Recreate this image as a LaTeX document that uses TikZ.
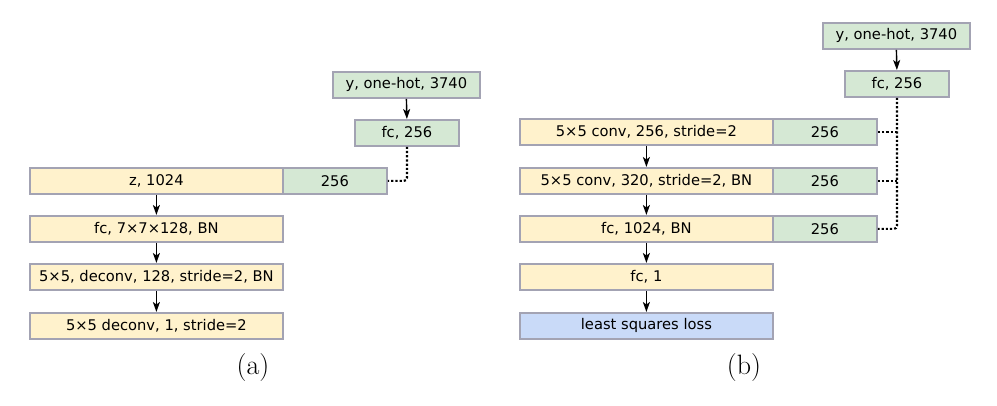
\documentclass[tikz,border=0pt]{standalone}
\usepackage{fontspec}
\setmainfont{DejaVu Sans}
\newfontfamily\capfont{Latin Modern Roman}
\usetikzlibrary{arrows.meta}
\definecolor{boxy}{HTML}{FFF2CC}
\definecolor{boxg}{HTML}{D5E8D4}
\definecolor{boxb}{HTML}{C9DAF8}
\definecolor{edgec}{HTML}{A3A3B3}
\begin{document}
\begin{tikzpicture}[x=1pt,y=-1pt,
  lay/.style={draw=edgec,line width=1.8pt,inner sep=0pt,font=\fontsize{14.7}{16}\selectfont,anchor=north west},
  ybox/.style={lay,fill=boxy},
  gbox/.style={lay,fill=boxg},
  bbox/.style={lay,fill=boxb},
  arr/.style={-{Stealth[length=10pt,width=7pt,inset=2.5pt]},line width=1.4pt},
  dots/.style={dotted,line width=2.2pt,rounded corners=3pt},
  captxt/.style={font=\capfont\fontsize{28}{32}\selectfont}]
\useasboundingbox (0,0) rectangle (997,406);
% panel (a)
\node[gbox,minimum width=147pt,minimum height=26pt] (ya) at (332,71) {y, one-hot, 3740};
\node[gbox,minimum width=104pt,minimum height=26pt] (fa) at (354,119) {fc, 256};
\node[ybox,minimum width=253pt,minimum height=26pt] (z) at (29,167) {z, 1024};
\node[gbox,minimum width=104pt,minimum height=26pt] (za) at (282,167) {256};
\node[ybox,minimum width=253pt,minimum height=26pt] (a1) at (29,215) {fc, 7×7×128, BN};
\node[ybox,minimum width=253pt,minimum height=26pt] (a2) at (29,263) {5×5, deconv, 128, stride=2, BN};
\node[ybox,minimum width=253pt,minimum height=26pt] (a3) at (29,312) {5×5 deconv, 1, stride=2};
\draw[arr] (ya.south) -- (fa.north);
\draw[arr] (z.south) -- (a1.north);
\draw[arr] (a1.south) -- (a2.north);
\draw[arr] (a2.south) -- (a3.north);
\draw[dots] (fa.south) |- (za.east);
\node[captxt] (capa) at (253,368) {(a)};
% panel (b)
\node[gbox,minimum width=147pt,minimum height=26pt] (yb) at (822,22) {y, one-hot, 3740};
\node[gbox,minimum width=104pt,minimum height=26pt] (fb) at (844,70) {fc, 256};
\node[ybox,minimum width=253pt,minimum height=26pt] (b1) at (519,118) {5×5 conv, 256, stride=2};
\node[gbox,minimum width=104pt,minimum height=26pt] (g1) at (772,118) {256};
\node[ybox,minimum width=253pt,minimum height=26pt] (b2) at (519,167) {5×5 conv, 320, stride=2, BN};
\node[gbox,minimum width=104pt,minimum height=26pt] (g2) at (772,167) {256};
\node[ybox,minimum width=253pt,minimum height=26pt] (b3) at (519,215) {fc, 1024, BN};
\node[gbox,minimum width=104pt,minimum height=26pt] (g3) at (772,215) {256};
\node[ybox,minimum width=253pt,minimum height=26pt] (b4) at (519,263) {fc, 1};
\node[bbox,minimum width=253pt,minimum height=26pt] (b5) at (519,312) {least squares loss};
\draw[arr] (yb.south) -- (fb.north);
\draw[arr] (b1.south) -- (b2.north);
\draw[arr] (b2.south) -- (b3.north);
\draw[arr] (b3.south) -- (b4.north);
\draw[arr] (b4.south) -- (b5.north);
\draw[dots] (fb.south) |- (g3.east);
\draw[dots] (fb.south |- g1.east) -- (g1.east);
\draw[dots] (fb.south |- g2.east) -- (g2.east);
\node[captxt] (capb) at (744,368) {(b)};
\end{tikzpicture}
\end{document}
